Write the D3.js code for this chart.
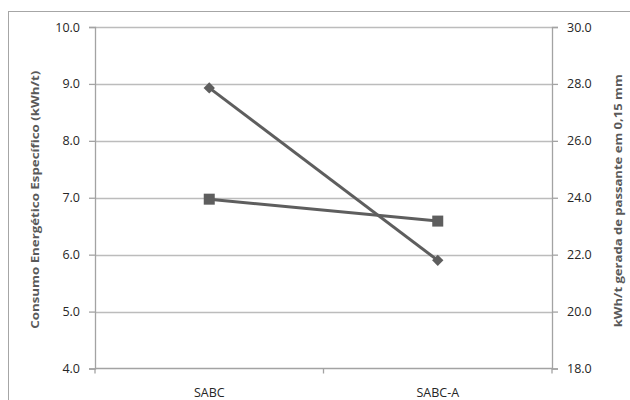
<!DOCTYPE html>
<html><head><meta charset="utf-8">
<script src="https://cdn.jsdelivr.net/npm/d3@7"></script>
<style>body{margin:0;background:#fff}svg{display:block}text{font-family:"Open Sans",Arial,sans-serif}</style>
</head><body><svg id="c" width="630" height="400"></svg>
<script>
const categories = ["SABC", "SABC-A"];
const consumo = [8.93, 5.90];          // left axis (kWh/t), diamonds
const passante = [23.95, 23.18];       // right axis, squares
const leftTicks = [4, 5, 6, 7, 8, 9, 10];
const rightTicks = [18, 20, 22, 24, 26, 28, 30];
const leftTitle = "Consumo Energético Específico  (kWh/t)";
const rightTitle = "kWh/t gerada de passante em 0,15 mm";

const svg = d3.select("#c");
const L = 95, R = 552, T = 27, B = 368.5;
const x = d3.scaleBand().domain(categories).range([L, R]);
const yL = d3.scaleLinear().domain([4, 10]).range([B, T]);
const yR = d3.scaleLinear().domain([18, 30]).range([B, T]);
const FONT = "'Open Sans',Arial,sans-serif";

// frame
svg.append("rect").attr("x", 8.5).attr("y", 11.5).attr("width", 640).attr("height", 400)
  .attr("fill", "none").attr("stroke", "#a6a6a6").attr("stroke-width", 1);

// gridlines
svg.append("g").selectAll("line").data(leftTicks.slice(1)).join("line")
  .attr("x1", L).attr("x2", R).attr("y1", d => Math.round(yL(d)) + 0.5).attr("y2", d => Math.round(yL(d)) + 0.5)
  .attr("stroke", "#bcbcbc").attr("stroke-width", 1.5);

const axisColor = "#a3a3a3";
function styleAxis(g) {
  g.selectAll("path.domain").attr("stroke", axisColor).attr("stroke-width", 1.3);
  g.selectAll(".tick line").attr("stroke", axisColor).attr("stroke-width", 1.3);
  g.selectAll(".tick text").attr("fill", "#262626").style("font-size", "12.5px").style("font-family", FONT);
}
const gL = svg.append("g").attr("transform", `translate(${L},0)`)
  .call(d3.axisLeft(yL).tickValues(leftTicks).tickFormat(d3.format(".1f")).tickSizeOuter(0).tickSize(6).tickPadding(9));
styleAxis(gL);
const gR = svg.append("g").attr("transform", `translate(${R},0)`)
  .call(d3.axisRight(yR).tickValues(rightTicks).tickFormat(d3.format(".1f")).tickSizeOuter(0).tickSize(6).tickPadding(9));
styleAxis(gR);

// bottom axis
const gB = svg.append("g").attr("transform", `translate(0,${B})`);
gB.append("line").attr("x1", L).attr("x2", R).attr("stroke", axisColor).attr("stroke-width", 1.3);
const bTicks = [L, L + x.step(), R];
gB.selectAll("line.t").data(bTicks).join("line").attr("class", "t")
  .attr("x1", d => d).attr("x2", d => d).attr("y1", 0).attr("y2", 5).attr("stroke", axisColor).attr("stroke-width", 1.3);
gB.selectAll("text").data(categories).join("text")
  .attr("x", d => x(d) + x.bandwidth() / 2).attr("y", 28).attr("text-anchor", "middle")
  .attr("fill", "#262626").style("font-size", "12.5px").text(d => d);

// titles
svg.append("text").attr("transform", `translate(39,${(T + B) / 2 + 2}) rotate(-90)`).attr("text-anchor", "middle")
  .attr("fill", "#595959").style("font-size", "10.5px").style("font-weight", "bold")
  .attr("textLength", 258).attr("lengthAdjust", "spacingAndGlyphs").text(leftTitle);
svg.append("text").attr("transform", `translate(622,${(T + B) / 2 + 3}) rotate(-90)`).attr("text-anchor", "middle")
  .attr("fill", "#595959").style("font-size", "10.5px").style("font-weight", "bold")
  .attr("textLength", 253).attr("lengthAdjust", "spacingAndGlyphs").text(rightTitle);

const cx = d => x(d) + x.bandwidth() / 2;
const col = "#5e5e5e";
// square series (right axis)
const sq = categories.map((c, i) => [cx(c), yR(passante[i])]);
svg.append("path").attr("d", d3.line()(sq)).attr("fill", "none").attr("stroke", col).attr("stroke-width", 3);
svg.selectAll("rect.m").data(sq).join("rect").attr("class", "m")
  .attr("x", d => d[0] - 5.5).attr("y", d => d[1] - 5.5).attr("width", 11).attr("height", 11).attr("fill", col);
// diamond series (left axis)
const dm = categories.map((c, i) => [cx(c), yL(consumo[i])]);
svg.append("path").attr("d", d3.line()(dm)).attr("fill", "none").attr("stroke", col).attr("stroke-width", 3);
svg.selectAll("path.dm").data(dm).join("path").attr("class", "dm")
  .attr("transform", d => `translate(${d[0]},${d[1]}) rotate(45)`)
  .attr("d", d3.symbol().type(d3.symbolSquare).size(64)).attr("fill", col);
</script></body></html>
